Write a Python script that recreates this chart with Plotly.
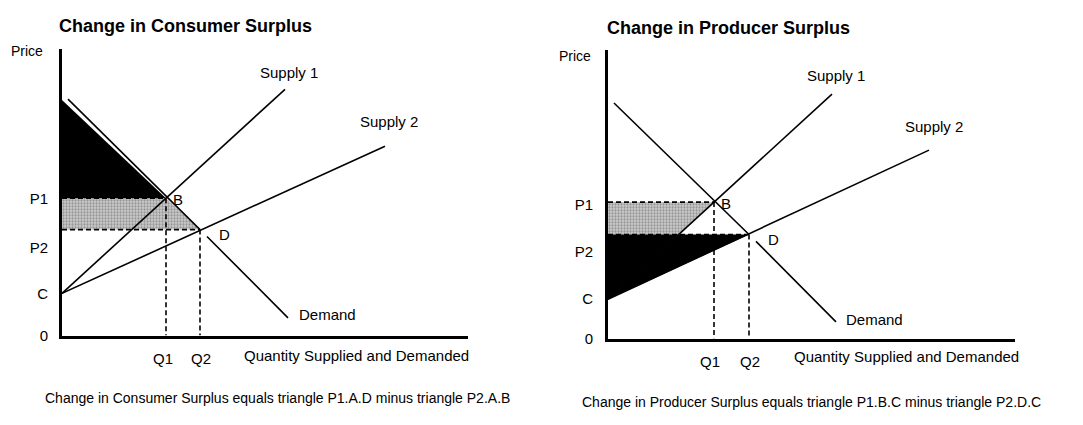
import plotly.graph_objects as go

# ---------------- data (quantity / price units) ----------------
# Left panel: Change in Consumer Surplus
cs_C, cs_P1, cs_P2, cs_Q1, cs_Q2 = 4.3, 14.0, 10.8, 10.4, 13.8
cs_demand_q = [0.6, 13.8, None, 14.5, 22.6]
cs_demand_p = [24.1, 10.8, None, 10.1, 1.8]
cs_supply1_q = [0, 22.3]
cs_supply1_p = [4.3, 25.1]
cs_supply2_q = [0, 32.3]
cs_supply2_p = [4.3, 19.3]
cs_black_q = [0, 10.4, 0]
cs_black_p = [24.0, 14.0, 14.0]
cs_stipple_q = [0, 10.4, 13.8, 0]
cs_stipple_p = [14.0, 14.0, 10.8, 10.8]
cs_range_q = [0, 40.6]
cs_range_p = [0, 29.2]
cs_ytick_pos = [0, 4.3, 8.9, 13.9]
cs_xtick_pos = [10.1, 13.9]

# Right panel: Change in Producer Surplus
ps_C, ps_P1, ps_P2, ps_Q1, ps_Q2 = 4.0, 13.9, 10.6, 10.6, 14.1
ps_demand_q = [0.6, 14.1, None, 14.8, 22.8]
ps_demand_p = [24.0, 10.6, None, 9.9, 1.7]
ps_supply1_q = [0, 22.4]
ps_supply1_p = [4.0, 24.9]
ps_supply2_q = [0, 32.1]
ps_supply2_p = [4.0, 19.2]
ps_range_q = [0, 40.7]
ps_range_p = [0, 29.4]
ps_ytick_pos = [0, 4.1, 8.8, 13.6]
ps_xtick_pos = [10.2, 14.2]

ytick_text = ["0", "C", "P2", "P1"]
xtick_text = ["Q1", "Q2"]

titles = ["Change in Consumer Surplus", "Change in Producer Surplus"]
captions = ["Change in Consumer Surplus equals triangle P1.A.D minus triangle P2.A.B",
            "Change in Producer Surplus equals triangle P1.B.C minus triangle P2.D.C"]

# ---------------- figure ----------------
W, H = 1083, 425
FONT = "Liberation Sans, Arial, sans-serif"
fig = go.Figure()

def line(x, y, xa, ya, dash="solid", width=1.6, color="black"):
    fig.add_trace(go.Scatter(x=x, y=y, mode="lines", xaxis=xa, yaxis=ya,
                             line=dict(color=color, width=width, dash=dash),
                             hoverinfo="skip", showlegend=False, cliponaxis=False))

def fill(x, y, xa, ya, color=None, pattern=None):
    fig.add_trace(go.Scatter(x=x + [x[0]], y=y + [y[0]], mode="lines", fill="toself",
                             xaxis=xa, yaxis=ya, line=dict(width=0, color="rgba(0,0,0,0)"),
                             fillcolor=color, fillpattern=pattern,
                             hoverinfo="skip", showlegend=False))

stipple = dict(shape=".", fgcolor="#5e5e5e", bgcolor="#cdcdcd", size=3, solidity=0.45)
DASH = "5px,3px"

# Left panel
fill(cs_stipple_q, cs_stipple_p, "x", "y", color="#cdcdcd", pattern=stipple)
fill(cs_black_q, cs_black_p, "x", "y", color="black")
line([0, cs_Q1], [cs_P1, cs_P1], "x", "y", dash=DASH)
line([0, cs_Q2], [cs_P2, cs_P2], "x", "y", dash=DASH)
line([cs_Q1, cs_Q1], [cs_P1, 0], "x", "y", dash=DASH)
line([cs_Q2, cs_Q2], [cs_P2, 0], "x", "y", dash=DASH)
line(cs_supply1_q, cs_supply1_p, "x", "y")
line(cs_supply2_q, cs_supply2_p, "x", "y")
line(cs_demand_q, cs_demand_p, "x", "y")

# Right panel
s1_slope = (ps_supply1_p[1] - ps_supply1_p[0]) / (ps_supply1_q[1] - ps_supply1_q[0])
q_s1_at_p2 = (ps_P2 - ps_C) / s1_slope
ps_stipple_q = [0, ps_Q1, q_s1_at_p2, 0]
ps_stipple_p = [ps_P1, ps_P1, ps_P2, ps_P2]
ps_black_q = [0, ps_Q2, 0]
ps_black_p = [ps_P2, ps_P2, ps_C]
fill(ps_stipple_q, ps_stipple_p, "x2", "y2", color="#cdcdcd", pattern=stipple)
fill(ps_black_q, ps_black_p, "x2", "y2", color="black")
line([0, q_s1_at_p2], [ps_C, ps_P2], "x2", "y2", dash="1px,4px", width=1, color="#bbbbbb")
line([0, ps_Q1], [ps_P1, ps_P1], "x2", "y2", dash=DASH)
line([0, ps_Q2], [ps_P2, ps_P2], "x2", "y2", dash=DASH)
line([ps_Q1, ps_Q1], [ps_P1, 0], "x2", "y2", dash=DASH)
line([ps_Q2, ps_Q2], [ps_P2, 0], "x2", "y2", dash=DASH)
line(ps_supply1_q, ps_supply1_p, "x2", "y2")
line(ps_supply2_q, ps_supply2_p, "x2", "y2")
line(ps_demand_q, ps_demand_p, "x2", "y2")

# ---------------- axes ----------------
def px_x(px):
    return px / W

def px_y(py):
    return 1 - py / H

axis_common = dict(showgrid=False, zeroline=False, showline=True, linecolor="black",
                   linewidth=3, ticks="outside", tickcolor="rgba(0,0,0,0)",
                   tickfont=dict(family=FONT, size=15, color="black"), fixedrange=True)

fig.update_layout(
    width=W, height=H, margin=dict(l=0, r=0, t=0, b=0),
    paper_bgcolor="white", plot_bgcolor="white", showlegend=False,
    xaxis=dict(domain=[px_x(62), px_x(468)], range=cs_range_q, anchor="y",
               tickvals=cs_xtick_pos, ticktext=xtick_text, ticklen=7, **axis_common),
    yaxis=dict(domain=[px_y(342), px_y(50)], range=cs_range_p, anchor="x",
               tickvals=cs_ytick_pos, ticktext=ytick_text, ticklen=8, **axis_common),
    xaxis2=dict(domain=[px_x(608), px_x(1015)], range=ps_range_q, anchor="y2",
                tickvals=ps_xtick_pos, ticktext=xtick_text, ticklen=7, **axis_common),
    yaxis2=dict(domain=[px_y(345), px_y(51)], range=ps_range_p, anchor="x2",
                tickvals=ps_ytick_pos, ticktext=ytick_text, ticklen=9, **axis_common),
)

# ---------------- text (placed in page pixels of the reference) ----------------
def text(s, px, py, size=15, xanchor="center", bold=False):
    fig.add_annotation(text=("<b>%s</b>" % s) if bold else s, x=px_x(px), y=px_y(py),
                       xref="paper", yref="paper", xanchor=xanchor, yanchor="middle",
                       showarrow=False, font=dict(family=FONT, size=size, color="black"))

panels = [
    dict(title=(185, 27), price=(27, 52), s1=(289, 74), s2=(389, 124), B=(178, 203),
         D=(224, 239), dem=(327, 321), qlab=(242, 362), cap=(43, 406)),
    dict(title=(728, 29), price=(575, 57), s1=(836, 77), s2=(934, 129), B=(726, 207),
         D=(773, 244), dem=(874, 326), qlab=(792, 363), cap=(580, 410)),
]
for i, pos in enumerate(panels):
    text(titles[i], *pos["title"], size=18, bold=True)
    text("Price", *pos["price"], size=14)
    text("Supply 1", *pos["s1"])
    text("Supply 2", *pos["s2"])
    text("B", *pos["B"])
    text("D", *pos["D"])
    text("Demand", *pos["dem"])
    text("Quantity Supplied and Demanded", *pos["qlab"], xanchor="left")
    text(captions[i], *pos["cap"], size=14, xanchor="left")

fig.write_html("out.html", config={"displayModeBar": False},
               post_script="document.body.style.margin='0';document.body.style.overflow='hidden';")
